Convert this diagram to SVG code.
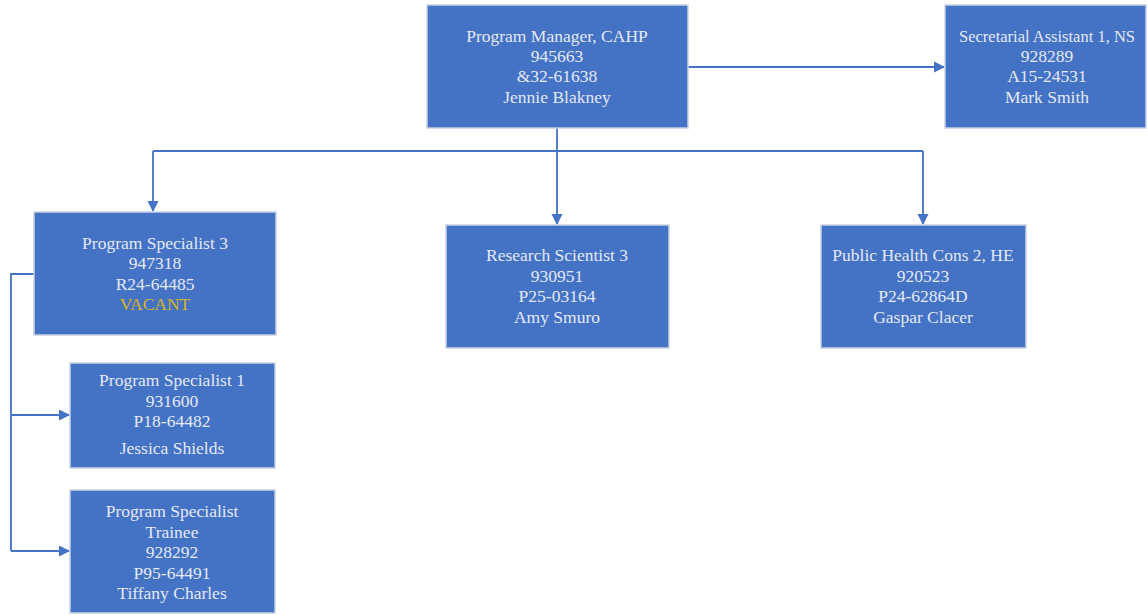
<svg xmlns="http://www.w3.org/2000/svg" width="1147" height="615" viewBox="0 0 1147 615">
<defs>
<marker id="arr" markerWidth="12" markerHeight="12" refX="10" refY="6" orient="auto" markerUnits="userSpaceOnUse">
<path d="M0,0.5 L11,6 L0,11.5 Z" fill="#4472c4"/>
</marker>
<style>
.box{fill:#4472c4;stroke:#c9d2e3;stroke-width:1.5}
.t{font-family:"Liberation Serif","DejaVu Serif",serif;font-size:17.5px;fill:#e3e9f6;text-anchor:middle}
.v{fill:#d9b520}
.c{fill:none;stroke:#4472c4;stroke-width:1.8}
</style>
</defs>
<rect width="1147" height="615" fill="#ffffff"/>
<g id="connectors">
<path class="c" d="M688,67 H944" marker-end="url(#arr)"/>
<path class="c" d="M557,128 V151"/>
<path class="c" d="M153,151 H923"/>
<path class="c" d="M153,151 V211" marker-end="url(#arr)"/>
<path class="c" d="M557,151 V224" marker-end="url(#arr)"/>
<path class="c" d="M923,151 V224" marker-end="url(#arr)"/>
<path class="c" d="M34,274 H11 V551"/>
<path class="c" d="M11,415 H69" marker-end="url(#arr)"/>
<path class="c" d="M11,551 H69" marker-end="url(#arr)"/>
</g>
<g id="pm">
<rect class="box" x="427" y="5" width="261" height="123"/>
<text class="t" x="557" y="42">Program Manager, CAHP</text>
<text class="t" x="557" y="62">945663</text>
<text class="t" x="557" y="82">&amp;32-61638</text>
<text class="t" x="557" y="103">Jennie Blakney</text>
</g>
<g id="sa">
<rect class="box" x="945" y="5" width="201" height="123"/>
<text class="t" x="1047" y="42" style="font-size:16.5px">Secretarial Assistant 1, NS</text>
<text class="t" x="1047" y="62">928289</text>
<text class="t" x="1047" y="82">A15-24531</text>
<text class="t" x="1047" y="103">Mark Smith</text>
</g>
<g id="ps3">
<rect class="box" x="34" y="212" width="242" height="123"/>
<text class="t" x="155" y="249">Program Specialist 3</text>
<text class="t" x="155" y="269">947318</text>
<text class="t" x="155" y="290">R24-64485</text>
<text class="t v" x="155" y="310">VACANT</text>
</g>
<g id="rs3">
<rect class="box" x="446" y="225" width="223" height="123"/>
<text class="t" x="557" y="261">Research Scientist 3</text>
<text class="t" x="557" y="282">930951</text>
<text class="t" x="557" y="302">P25-03164</text>
<text class="t" x="557" y="323">Amy Smuro</text>
</g>
<g id="phc">
<rect class="box" x="821" y="225" width="205" height="123"/>
<text class="t" x="923" y="261">Public Health Cons 2, HE</text>
<text class="t" x="923" y="282">920523</text>
<text class="t" x="923" y="302">P24-62864D</text>
<text class="t" x="923" y="323">Gaspar Clacer</text>
</g>
<g id="ps1">
<rect class="box" x="70" y="363" width="205" height="105"/>
<text class="t" x="172" y="386">Program Specialist 1</text>
<text class="t" x="172" y="407">931600</text>
<text class="t" x="172" y="427">P18-64482</text>
<text class="t" x="172" y="454">Jessica Shields</text>
</g>
<g id="pst">
<rect class="box" x="70" y="490" width="205" height="123"/>
<text class="t" x="172" y="517">Program Specialist</text>
<text class="t" x="172" y="538">Trainee</text>
<text class="t" x="172" y="558">928292</text>
<text class="t" x="172" y="579">P95-64491</text>
<text class="t" x="172" y="599">Tiffany Charles</text>
</g>
</svg>
